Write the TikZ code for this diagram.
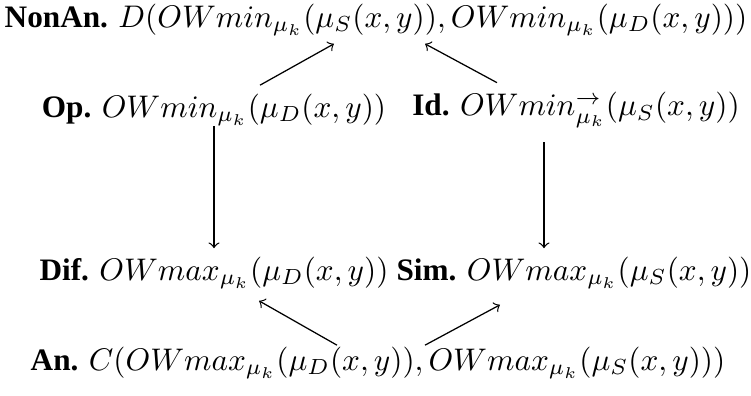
\documentclass[tikz,border=0pt]{standalone}
\usepackage{fontspec}
\setmainfont{Liberation Serif}
\usetikzlibrary{calc}

\begin{document}
\begin{tikzpicture}[x=0.32pt, y=0.32pt, >=to, every node/.style={inner sep=0pt}]
      \useasboundingbox (0,0) rectangle (751,396);
      \node (nonan) at (376,376) {\textbf{NonAn.} $D(OWmin_{\mu_k}(\mu_S(x,y)),OWmin_{\mu_k}(\mu_D(x,y)))$};
      \node (op) at (214,286) {\textbf{Op.} $OWmin_{\mu_k}(\mu_D(x,y))$};
      \node (id) at (576,286) {\textbf{Id.} $OWmin^{\rightarrow}_{\mu_k}(\mu_S(x,y))$};
      \node (dif) at (214,123) {\textbf{Dif.} $OWmax_{\mu_k}(\mu_D(x,y))$};
      \node (sim) at (574,123) {\textbf{Sim.} $OWmax_{\mu_k}(\mu_S(x,y))$};
      \node (an) at (378,33) {\textbf{An.} $C(OWmax_{\mu_k}(\mu_D(x,y)),OWmax_{\mu_k}(\mu_S(x,y)))$};
      \draw[->] ($(op.north)+(46,8)$) -- ($(nonan.south)+(-42,-7)$);
      \draw[->] ($(id.north)+(-79,9)$) -- ($(nonan.south)+(49,-7)$);
      \draw[->] ($(op.south)+(0,1)$) -- ($(dif.north)+(0,8)$);
      \draw[->] ($(id.south)+(-32,-14)$) -- ($(sim.north)+(-30,8)$);
      \draw[->] ($(an.north)+(-41,1)$) -- ($(dif.south)+(45,-11)$);
      \draw[->] ($(an.north)+(47,1)$) -- ($(sim.south)+(-74,-15)$);
    \end{tikzpicture}
\end{document}
